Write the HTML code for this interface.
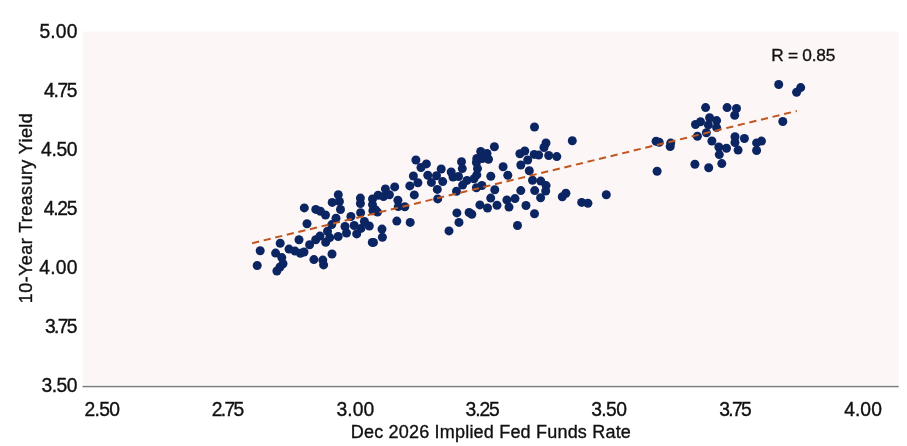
<!DOCTYPE html>
<html><head><meta charset="utf-8"><style>
html,body{margin:0;padding:0;background:#fff;overflow:hidden;}
svg{display:block;}
text{font-family:"Liberation Sans",Arial,sans-serif;fill:#111;stroke:#111;stroke-width:0.35;}
</style></head><body>
<svg width="907" height="446" viewBox="0 0 907 446">
<rect x="0" y="0" width="907" height="446" fill="#fff"/>
<rect x="82.7" y="31.5" width="816.0" height="353.2" fill="#fdf6f6"/>
<rect x="82.5" y="385.8" width="816.2" height="1.5" fill="#7c7c7c"/>
<g font-size="19.3"><text x="84.50" y="415.5" letter-spacing="-0.67">2.50</text><text x="211.80" y="415.5" letter-spacing="-1.67">2.75</text><text x="336.50" y="415.5" letter-spacing="0.07">3.00</text><text x="465.50" y="415.5" letter-spacing="-1.07">3.25</text><text x="591.20" y="415.5" letter-spacing="-0.60">3.50</text><text x="719.30" y="415.5" letter-spacing="-1.67">3.75</text><text x="844.15" y="415.5" letter-spacing="0.07">4.00</text><text x="41.40" y="391.90" letter-spacing="-0.47">3.50</text><text x="45.00" y="332.92" letter-spacing="-1.67">3.75</text><text x="39.20" y="273.94" letter-spacing="0.27">4.00</text><text x="43.80" y="214.96" letter-spacing="-1.27">4.25</text><text x="41.10" y="155.98" letter-spacing="-0.37">4.50</text><text x="44.00" y="97.00" letter-spacing="-1.33">4.75</text><text x="39.40" y="38.02" letter-spacing="0.20">5.00</text></g>
<text x="490.90" y="437.8" font-size="18" letter-spacing="0.2" text-anchor="middle">Dec 2026 Implied Fed Funds Rate</text>
<text transform="translate(32.4,208) rotate(-90)" font-size="18" letter-spacing="0.4" text-anchor="middle">10-Year Treasury Yield</text>
<text x="771.2" y="60.9" font-size="17.3" letter-spacing="-0.25">R = 0.85</text>
<g fill="#0b2562">
<circle cx="257.2" cy="265.5" r="4.5"/>
<circle cx="276.9" cy="271.0" r="4.5"/>
<circle cx="280.0" cy="267.0" r="4.5"/>
<circle cx="283.0" cy="263.8" r="4.5"/>
<circle cx="281.8" cy="257.6" r="4.5"/>
<circle cx="313.9" cy="259.6" r="4.5"/>
<circle cx="322.8" cy="260.1" r="4.5"/>
<circle cx="323.6" cy="264.9" r="4.5"/>
<circle cx="332.0" cy="254.0" r="4.5"/>
<circle cx="260.2" cy="250.8" r="4.5"/>
<circle cx="280.2" cy="243.2" r="4.5"/>
<circle cx="275.6" cy="253.1" r="4.5"/>
<circle cx="289.0" cy="249.1" r="4.5"/>
<circle cx="295.0" cy="251.1" r="4.5"/>
<circle cx="300.4" cy="253.3" r="4.5"/>
<circle cx="304.0" cy="252.0" r="4.5"/>
<circle cx="299.0" cy="239.8" r="4.5"/>
<circle cx="307.0" cy="223.8" r="4.5"/>
<circle cx="309.6" cy="244.8" r="4.5"/>
<circle cx="315.7" cy="239.8" r="4.5"/>
<circle cx="320.0" cy="236.1" r="4.5"/>
<circle cx="325.7" cy="242.2" r="4.5"/>
<circle cx="329.8" cy="237.6" r="4.5"/>
<circle cx="327.5" cy="231.2" r="4.5"/>
<circle cx="331.8" cy="224.6" r="4.5"/>
<circle cx="336.0" cy="218.3" r="4.5"/>
<circle cx="340.5" cy="209.5" r="4.5"/>
<circle cx="325.5" cy="215.0" r="4.5"/>
<circle cx="338.2" cy="236.5" r="4.5"/>
<circle cx="345.0" cy="226.5" r="4.5"/>
<circle cx="346.5" cy="233.0" r="4.5"/>
<circle cx="350.9" cy="216.5" r="4.5"/>
<circle cx="354.2" cy="225.5" r="4.5"/>
<circle cx="356.7" cy="233.9" r="4.5"/>
<circle cx="360.6" cy="212.7" r="4.5"/>
<circle cx="361.0" cy="228.4" r="4.5"/>
<circle cx="364.4" cy="221.5" r="4.5"/>
<circle cx="369.3" cy="226.0" r="4.5"/>
<circle cx="372.3" cy="242.4" r="4.5"/>
<circle cx="373.5" cy="242.4" r="4.5"/>
<circle cx="372.9" cy="210.8" r="4.5"/>
<circle cx="304.3" cy="207.9" r="4.5"/>
<circle cx="315.8" cy="209.4" r="4.5"/>
<circle cx="320.4" cy="211.3" r="4.5"/>
<circle cx="332.2" cy="202.4" r="4.5"/>
<circle cx="338.3" cy="194.7" r="4.5"/>
<circle cx="339.4" cy="201.5" r="4.5"/>
<circle cx="360.4" cy="198.1" r="4.5"/>
<circle cx="360.4" cy="203.5" r="4.5"/>
<circle cx="372.5" cy="199.0" r="4.5"/>
<circle cx="378.1" cy="195.3" r="4.5"/>
<circle cx="383.5" cy="196.5" r="4.5"/>
<circle cx="389.4" cy="194.8" r="4.5"/>
<circle cx="385.4" cy="188.9" r="4.5"/>
<circle cx="394.7" cy="186.9" r="4.5"/>
<circle cx="397.9" cy="200.2" r="4.5"/>
<circle cx="398.3" cy="206.6" r="4.5"/>
<circle cx="372.5" cy="204.6" r="4.5"/>
<circle cx="375.3" cy="209.8" r="4.5"/>
<circle cx="377.5" cy="212.1" r="4.5"/>
<circle cx="382.0" cy="229.1" r="4.5"/>
<circle cx="382.4" cy="237.2" r="4.5"/>
<circle cx="396.8" cy="221.1" r="4.5"/>
<circle cx="410.2" cy="222.4" r="4.5"/>
<circle cx="404.8" cy="206.7" r="4.5"/>
<circle cx="415.9" cy="160.0" r="4.5"/>
<circle cx="421.0" cy="167.5" r="4.5"/>
<circle cx="426.4" cy="163.9" r="4.5"/>
<circle cx="413.4" cy="176.0" r="4.5"/>
<circle cx="417.9" cy="182.7" r="4.5"/>
<circle cx="409.8" cy="185.9" r="4.5"/>
<circle cx="441.2" cy="169.0" r="4.5"/>
<circle cx="427.8" cy="175.3" r="4.5"/>
<circle cx="436.5" cy="175.7" r="4.5"/>
<circle cx="431.4" cy="182.4" r="4.5"/>
<circle cx="442.7" cy="181.6" r="4.5"/>
<circle cx="437.3" cy="189.4" r="4.5"/>
<circle cx="414.3" cy="194.9" r="4.5"/>
<circle cx="437.7" cy="198.9" r="4.5"/>
<circle cx="456.5" cy="191.2" r="4.5"/>
<circle cx="456.9" cy="212.9" r="4.5"/>
<circle cx="459.0" cy="222.4" r="4.5"/>
<circle cx="449.0" cy="230.9" r="4.5"/>
<circle cx="469.1" cy="212.5" r="4.5"/>
<circle cx="471.8" cy="214.3" r="4.5"/>
<circle cx="479.9" cy="204.9" r="4.5"/>
<circle cx="487.5" cy="208.0" r="4.5"/>
<circle cx="490.7" cy="198.1" r="4.5"/>
<circle cx="497.0" cy="205.3" r="4.5"/>
<circle cx="461.5" cy="161.8" r="4.5"/>
<circle cx="462.3" cy="168.6" r="4.5"/>
<circle cx="451.2" cy="172.0" r="4.5"/>
<circle cx="453.0" cy="177.0" r="4.5"/>
<circle cx="458.5" cy="176.5" r="4.5"/>
<circle cx="467.0" cy="180.4" r="4.5"/>
<circle cx="462.6" cy="185.1" r="4.5"/>
<circle cx="476.4" cy="162.5" r="4.5"/>
<circle cx="477.5" cy="168.6" r="4.5"/>
<circle cx="476.8" cy="174.9" r="4.5"/>
<circle cx="474.0" cy="178.8" r="4.5"/>
<circle cx="476.4" cy="187.8" r="4.5"/>
<circle cx="481.9" cy="185.5" r="4.5"/>
<circle cx="494.4" cy="146.8" r="4.5"/>
<circle cx="480.7" cy="151.5" r="4.5"/>
<circle cx="487.0" cy="153.4" r="4.5"/>
<circle cx="476.8" cy="158.5" r="4.5"/>
<circle cx="482.3" cy="158.5" r="4.5"/>
<circle cx="488.5" cy="159.3" r="4.5"/>
<circle cx="503.1" cy="166.8" r="4.5"/>
<circle cx="490.8" cy="176.2" r="4.5"/>
<circle cx="507.8" cy="175.3" r="4.5"/>
<circle cx="520.8" cy="165.0" r="4.5"/>
<circle cx="529.3" cy="170.8" r="4.5"/>
<circle cx="532.5" cy="180.2" r="4.5"/>
<circle cx="494.8" cy="189.7" r="4.5"/>
<circle cx="520.8" cy="190.6" r="4.5"/>
<circle cx="506.9" cy="200.0" r="4.5"/>
<circle cx="515.0" cy="198.6" r="4.5"/>
<circle cx="534.7" cy="190.6" r="4.5"/>
<circle cx="526.0" cy="205.5" r="4.5"/>
<circle cx="509.0" cy="207.1" r="4.5"/>
<circle cx="534.5" cy="213.8" r="4.5"/>
<circle cx="517.5" cy="225.5" r="4.5"/>
<circle cx="540.6" cy="197.8" r="4.5"/>
<circle cx="534.5" cy="127.0" r="4.5"/>
<circle cx="546.0" cy="143.0" r="4.5"/>
<circle cx="544.0" cy="147.5" r="4.5"/>
<circle cx="519.9" cy="153.7" r="4.5"/>
<circle cx="524.8" cy="151.0" r="4.5"/>
<circle cx="534.2" cy="154.4" r="4.5"/>
<circle cx="538.7" cy="155.1" r="4.5"/>
<circle cx="548.7" cy="155.5" r="4.5"/>
<circle cx="556.8" cy="156.6" r="4.5"/>
<circle cx="527.7" cy="160.0" r="4.5"/>
<circle cx="572.3" cy="140.8" r="4.5"/>
<circle cx="540.8" cy="181.1" r="4.5"/>
<circle cx="546.1" cy="185.6" r="4.5"/>
<circle cx="545.7" cy="191.0" r="4.5"/>
<circle cx="565.9" cy="193.3" r="4.5"/>
<circle cx="562.3" cy="196.8" r="4.5"/>
<circle cx="581.7" cy="202.4" r="4.5"/>
<circle cx="587.9" cy="203.3" r="4.5"/>
<circle cx="606.3" cy="194.8" r="4.5"/>
<circle cx="656.1" cy="141.3" r="4.5"/>
<circle cx="659.2" cy="142.3" r="4.5"/>
<circle cx="670.7" cy="143.1" r="4.5"/>
<circle cx="670.2" cy="146.6" r="4.5"/>
<circle cx="694.9" cy="164.3" r="4.5"/>
<circle cx="657.1" cy="171.3" r="4.5"/>
<circle cx="695.5" cy="124.5" r="4.5"/>
<circle cx="700.5" cy="121.8" r="4.5"/>
<circle cx="709.6" cy="117.8" r="4.5"/>
<circle cx="708.4" cy="124.9" r="4.5"/>
<circle cx="716.6" cy="120.6" r="4.5"/>
<circle cx="716.6" cy="127.6" r="4.5"/>
<circle cx="706.4" cy="132.7" r="4.5"/>
<circle cx="697.4" cy="136.3" r="4.5"/>
<circle cx="711.9" cy="141.0" r="4.5"/>
<circle cx="705.6" cy="107.6" r="4.5"/>
<circle cx="727.1" cy="107.6" r="4.5"/>
<circle cx="736.5" cy="108.5" r="4.5"/>
<circle cx="734.7" cy="115.2" r="4.5"/>
<circle cx="718.8" cy="147.0" r="4.5"/>
<circle cx="726.5" cy="148.3" r="4.5"/>
<circle cx="719.3" cy="154.6" r="4.5"/>
<circle cx="721.8" cy="163.6" r="4.5"/>
<circle cx="735.0" cy="136.7" r="4.5"/>
<circle cx="735.0" cy="142.5" r="4.5"/>
<circle cx="738.1" cy="150.1" r="4.5"/>
<circle cx="744.4" cy="138.5" r="4.5"/>
<circle cx="756.6" cy="142.9" r="4.5"/>
<circle cx="761.5" cy="141.1" r="4.5"/>
<circle cx="756.6" cy="150.5" r="4.5"/>
<circle cx="782.8" cy="121.5" r="4.5"/>
<circle cx="778.7" cy="84.5" r="4.5"/>
<circle cx="796.6" cy="92.2" r="4.5"/>
<circle cx="800.7" cy="87.6" r="4.5"/>
<circle cx="708.7" cy="167.8" r="4.5"/>
</g>
<line x1="252.1" y1="243.2" x2="796.8" y2="111.0" stroke="#c0561f" stroke-width="2" stroke-dasharray="7.2 4.7"/>
</svg>
</body></html>
